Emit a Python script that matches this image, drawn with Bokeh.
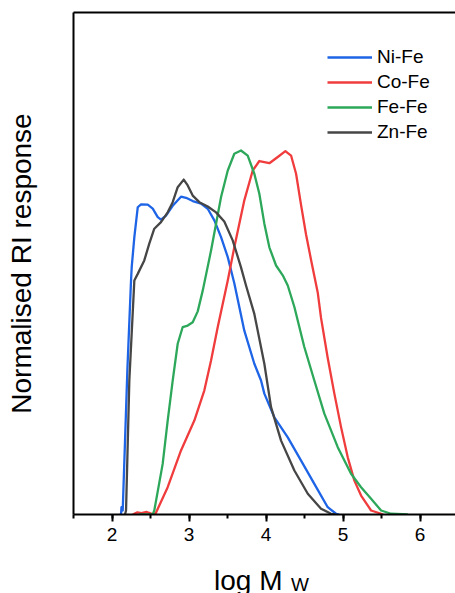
from bokeh.plotting import figure
from bokeh.layouts import column
from bokeh.models import (Range1d, LinearAxis, FixedTicker, SingleIntervalTicker,
                          Legend, LegendItem)
from bokeh.core.properties import value
from bokeh.embed import file_html
from bokeh.resources import INLINE

# ---------------- data (log Mw, normalised RI response) ----------------
ni_x = [2.10, 2.117, 2.123, 2.139, 2.20, 2.247, 2.256, 2.290, 2.334, 2.377, 2.464, 2.529,
        2.594, 2.636, 2.701, 2.788, 2.896, 2.961, 3.048, 3.156, 3.243, 3.329, 3.416,
        3.503, 3.588, 3.718, 3.848, 3.935, 3.978, 4.108, 4.282, 4.455, 4.627, 4.801,
        4.909, 4.95]
ni_y = [0.0, 0.0, 0.02, 0.011, 0.40, 0.643, 0.680, 0.762, 0.844, 0.852, 0.851, 0.840,
        0.817, 0.810, 0.821, 0.848, 0.873, 0.870, 0.861, 0.854, 0.840, 0.808, 0.762,
        0.707, 0.635, 0.505, 0.414, 0.368, 0.332, 0.267, 0.212, 0.148, 0.084, 0.020,
        0.002, 0.0]

co_x = [2.269, 2.33, 2.38, 2.45, 2.50, 2.549, 2.571, 2.723, 2.896, 3.069, 3.199, 3.286,
        3.373, 3.503, 3.588, 3.718, 3.827, 3.913, 4.043, 4.152, 4.251, 4.325, 4.390,
        4.455, 4.519, 4.584, 4.671, 4.714, 4.801, 4.887, 4.974, 5.061, 5.147, 5.234,
        5.364, 5.494, 5.52]
co_y = [0.0, 0.006, 0.004, 0.007, 0.003, 0.0, 0.005, 0.075, 0.176, 0.258, 0.341, 0.423,
        0.515, 0.643, 0.734, 0.863, 0.945, 0.971, 0.965, 0.982, 0.998, 0.986, 0.936,
        0.850, 0.770, 0.700, 0.610, 0.540, 0.430, 0.332, 0.240, 0.157, 0.093, 0.052,
        0.011, 0.002, 0.0]

fe_x = [2.35, 2.529, 2.549, 2.658, 2.723, 2.788, 2.853, 2.918, 2.983, 3.048, 3.113,
        3.178, 3.286, 3.416, 3.503, 3.588, 3.675, 3.762, 3.848, 3.913, 3.978, 4.043,
        4.130, 4.217, 4.282, 4.368, 4.497, 4.627, 4.757, 4.931, 5.104, 5.234, 5.364,
        5.494, 5.623, 5.84]
fe_y = [0.0, 0.0, 0.011, 0.139, 0.258, 0.368, 0.469, 0.515, 0.519, 0.528, 0.558,
        0.615, 0.725, 0.872, 0.945, 0.991, 1.0, 0.986, 0.936, 0.881, 0.799, 0.734,
        0.684, 0.657, 0.629, 0.570, 0.460, 0.368, 0.277, 0.185, 0.112, 0.075, 0.043,
        0.011, 0.002, 0.0]

zn_x = [2.169, 2.182, 2.225, 2.290, 2.334, 2.419, 2.484, 2.549, 2.636, 2.723, 2.788,
        2.853, 2.931, 2.983, 3.048, 3.134, 3.243, 3.351, 3.458, 3.567, 3.675, 3.740,
        3.848, 3.978, 4.065, 4.195, 4.368, 4.542, 4.714, 4.844, 4.90]
zn_y = [0.0, 0.011, 0.368, 0.643, 0.661, 0.698, 0.744, 0.785, 0.803, 0.830, 0.858,
        0.899, 0.920, 0.904, 0.876, 0.858, 0.846, 0.830, 0.805, 0.753, 0.679, 0.629,
        0.551, 0.414, 0.295, 0.203, 0.121, 0.057, 0.016, 0.002, 0.0]

series_names = ["Ni-Fe", "Co-Fe", "Fe-Fe", "Zn-Fe"]
series_x = [ni_x, co_x, fe_x, zn_x]
series_y = [ni_y, co_y, fe_y, zn_y]
series_colors = ["#1e64e6", "#f03c3c", "#2da85a", "#464646"]

x_title_main = "log M"
x_title_sub = "W"

FONT = "Liberation Sans"

p = figure(width=455, height=555, output_backend="svg", toolbar_location=None,
           x_range=Range1d(1.5, 6.46), y_range=Range1d(0, 1.379),
           min_border_left=73, min_border_right=0, min_border_top=12,
           min_border_bottom=41)
p.outline_line_color = None
p.grid.visible = False
p.background_fill_color = "white"
p.border_fill_color = "white"

# x axis
xa = p.xaxis[0]
xa.ticker = SingleIntervalTicker(interval=1, num_minor_ticks=2)
xa.axis_line_width = 2
xa.axis_line_color = "black"
xa.major_tick_line_width = 2
xa.minor_tick_line_width = 2
xa.major_tick_in = 0
xa.major_tick_out = 7
xa.minor_tick_in = 0
xa.minor_tick_out = 4
xa.major_label_text_font = FONT
xa.major_label_text_font_size = "19px"
xa.major_label_text_color = "black"
xa.major_label_standoff = 6

# y axis: line only
ya = p.yaxis[0]
ya.ticker = FixedTicker(ticks=[])
ya.axis_line_width = 2
ya.axis_line_color = "black"
ya.major_tick_line_color = None
ya.minor_tick_line_color = None
ya.axis_label = "Normalised RI response"
ya.axis_label_text_font = FONT
ya.axis_label_text_font_size = "28px"
ya.axis_label_text_font_style = "normal"
ya.axis_label_text_color = "black"
ya.axis_label_standoff = 37

# top border
top = LinearAxis(ticker=FixedTicker(ticks=[]), axis_line_width=2, axis_line_color="black",
                 major_tick_line_color=None, minor_tick_line_color=None)
p.add_layout(top, "above")

renderers = []
for name, xs, ys, c in zip(series_names, series_x, series_y, series_colors):
    r = p.line(xs, ys, line_color=c, line_width=2.3, line_join="round")
    renderers.append((name, r))

legend = Legend(items=[LegendItem(label=n, renderers=[r]) for n, r in renderers],
                location=(254, 371), padding=0, spacing=3, glyph_width=45,
                glyph_height=22, label_height=22, label_standoff=5,
                label_text_font=FONT, label_text_font_size="19px",
                label_text_color="black", border_line_color=None,
                background_fill_alpha=0)
p.add_layout(legend)

# strip holding the x-axis title with its subscript (shares the x scale)
p2 = figure(width=455, height=38, output_backend="svg", toolbar_location=None,
            x_range=p.x_range, y_range=Range1d(0, 38),
            x_axis_type=None, y_axis_type=None,
            min_border_left=73, min_border_right=0, min_border_top=0,
            min_border_bottom=0)
p2.title = None
p2.grid.visible = False
p2.outline_line_color = None
p2.background_fill_color = "white"
p2.border_fill_color = "white"
p2.text(x=[3.325], y=[13], text=[x_title_main], text_font=value(FONT),
        text_font_size="28px", text_baseline="alphabetic", text_align="left",
        text_color="black")
p2.text(x=[4.325], y=[9], text=[x_title_sub], text_font=value(FONT),
        text_font_size="19px", text_baseline="alphabetic", text_align="left",
        text_color="black")

layout = column(p, p2, spacing=0)
open("out.html", "w").write(file_html(layout, INLINE))
